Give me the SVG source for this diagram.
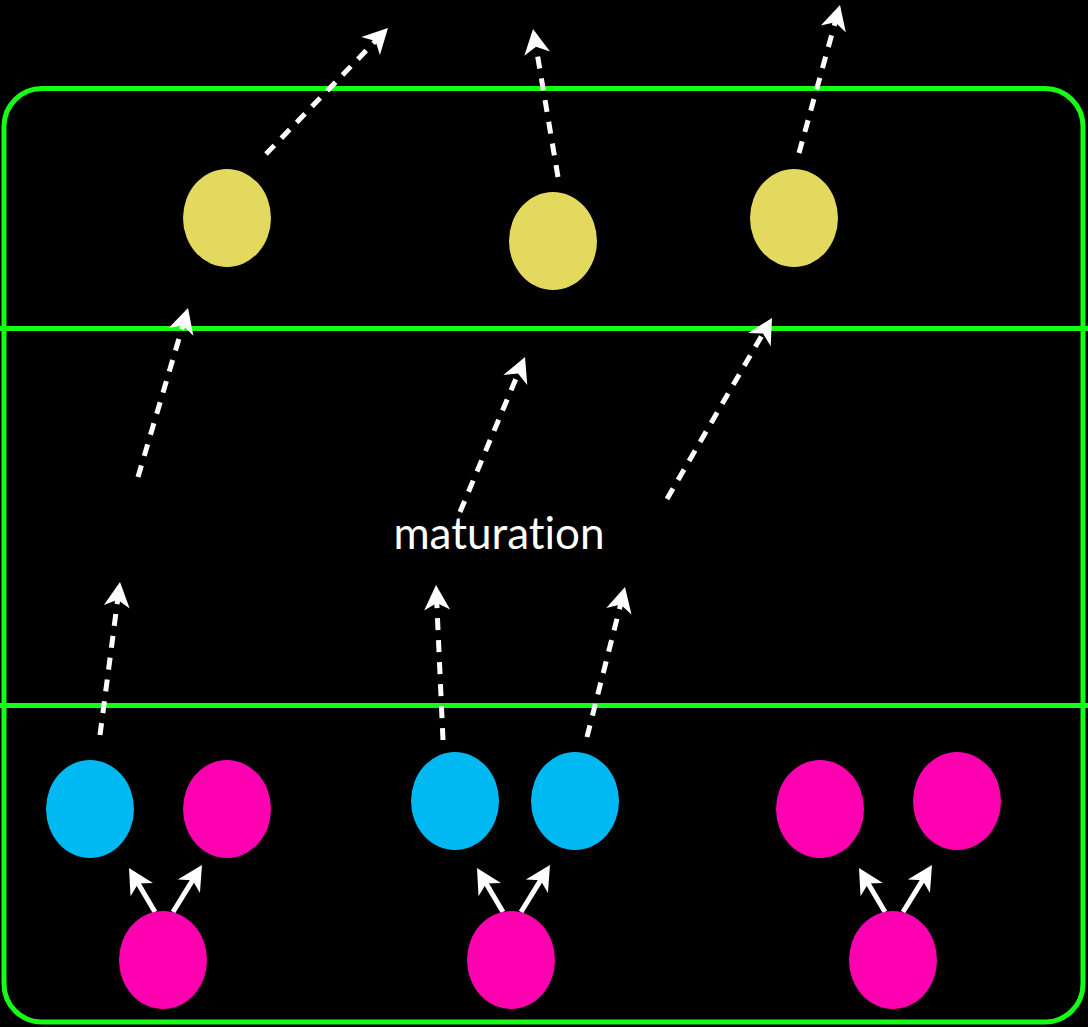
<svg xmlns="http://www.w3.org/2000/svg" xmlns:xlink="http://www.w3.org/1999/xlink" width="1088" height="1027" viewBox="0 0 1088 1027">
  <style>
    .frame { fill: none; stroke: #14ff14; stroke-width: 5; }
    .yellow { fill: #e3d95f; }
    .blue { fill: #00b8f2; }
    .pink { fill: #ff00b0; }
    .dash { stroke: #ffffff; stroke-width: 5; stroke-dasharray: 12 10; fill: none; }
    .solid { stroke: #ffffff; stroke-width: 5; fill: none; }
    .head { fill: #ffffff; }
    .label { font-family: Lato, "Open Sans", "DejaVu Sans", sans-serif; font-size: 44px; fill: #ffffff; font-variant-ligatures: none; }
  </style>
  <defs>
    <path id="ah" d="M0,0 L-25,-13 L-18,0 L-25,13 Z"/>
  </defs>
  <rect x="0" y="0" width="1088" height="1027" fill="#000000"/>
  <g id="frame">
    <rect class="frame" x="4" y="88.5" width="1079" height="933.5" rx="38" ry="38"/>
    <line class="frame" x1="0" y1="328.5" x2="1088" y2="328.5"/>
    <line class="frame" x1="0" y1="705.5" x2="1088" y2="705.5"/>
  </g>
  <g id="connectors">
    <line class="dash" x1="266" y1="154" x2="376.9" y2="39.5"/>
    <use class="head" xlink:href="#ah" href="#ah" transform="translate(388,28) rotate(-45.9)"/>
    <line class="dash" x1="558" y1="177" x2="535.7" y2="44.8"/>
    <use class="head" xlink:href="#ah" href="#ah" transform="translate(533,29) rotate(-99.6)"/>
    <line class="dash" x1="799" y1="153" x2="835.7" y2="20.4"/>
    <use class="head" xlink:href="#ah" href="#ah" transform="translate(840,5) rotate(-74.5)"/>
    <line class="dash" x1="138" y1="477" x2="183.5" y2="323.3"/>
    <use class="head" xlink:href="#ah" href="#ah" transform="translate(188,308) rotate(-73.5)"/>
    <line class="dash" x1="460" y1="512" x2="518.8" y2="371.8"/>
    <use class="head" xlink:href="#ah" href="#ah" transform="translate(525,357) rotate(-67.2)"/>
    <line class="dash" x1="667" y1="499" x2="764" y2="331.8"/>
    <use class="head" xlink:href="#ah" href="#ah" transform="translate(772,318) rotate(-59.9)"/>
    <line class="dash" x1="100" y1="735" x2="117.9" y2="597.9"/>
    <use class="head" xlink:href="#ah" href="#ah" transform="translate(120,582) rotate(-82.6)"/>
    <line class="dash" x1="443" y1="740" x2="436.7" y2="601"/>
    <use class="head" xlink:href="#ah" href="#ah" transform="translate(436,585) rotate(-92.6)"/>
    <line class="dash" x1="587" y1="737" x2="621.1" y2="602.5"/>
    <use class="head" xlink:href="#ah" href="#ah" transform="translate(625,587) rotate(-75.8)"/>

    <line class="solid" x1="155" y1="912" x2="137.1" y2="881.8"/>
    <use class="head" xlink:href="#ah" href="#ah" transform="translate(129,868) rotate(-120.6)"/>
    <line class="solid" x1="173" y1="912" x2="193.6" y2="878.6"/>
    <use class="head" xlink:href="#ah" href="#ah" transform="translate(202,865) rotate(-58.3)"/>
    <line class="solid" x1="503" y1="912" x2="485.1" y2="881.8"/>
    <use class="head" xlink:href="#ah" href="#ah" transform="translate(477,868) rotate(-120.6)"/>
    <line class="solid" x1="521" y1="912" x2="541.6" y2="878.6"/>
    <use class="head" xlink:href="#ah" href="#ah" transform="translate(550,865) rotate(-58.3)"/>
    <line class="solid" x1="885" y1="912" x2="867.1" y2="881.8"/>
    <use class="head" xlink:href="#ah" href="#ah" transform="translate(859,868) rotate(-120.6)"/>
    <line class="solid" x1="903" y1="912" x2="923.6" y2="878.6"/>
    <use class="head" xlink:href="#ah" href="#ah" transform="translate(932,865) rotate(-58.3)"/>
  </g>
  <g id="y1"><ellipse class="yellow" cx="227" cy="218" rx="44" ry="49"/></g>
  <g id="y2"><ellipse class="yellow" cx="553" cy="241" rx="44" ry="49"/></g>
  <g id="y3"><ellipse class="yellow" cx="794" cy="218" rx="44" ry="49"/></g>
  <g id="b1"><ellipse class="blue" cx="90" cy="809" rx="44" ry="49"/></g>
  <g id="p1"><ellipse class="pink" cx="227" cy="809" rx="44" ry="49"/></g>
  <g id="b2"><ellipse class="blue" cx="455" cy="801" rx="44" ry="49"/></g>
  <g id="b3"><ellipse class="blue" cx="575" cy="801" rx="44" ry="49"/></g>
  <g id="p2"><ellipse class="pink" cx="820" cy="809" rx="44" ry="49"/></g>
  <g id="p3"><ellipse class="pink" cx="957" cy="801" rx="44" ry="49"/></g>
  <g id="p4"><ellipse class="pink" cx="163" cy="960" rx="44" ry="49"/></g>
  <g id="p5"><ellipse class="pink" cx="511" cy="960" rx="44" ry="49"/></g>
  <g id="p6"><ellipse class="pink" cx="893" cy="960" rx="44" ry="49"/></g>
  <g id="label"><text class="label" x="499" y="549" text-anchor="middle">maturation</text></g>
</svg>
